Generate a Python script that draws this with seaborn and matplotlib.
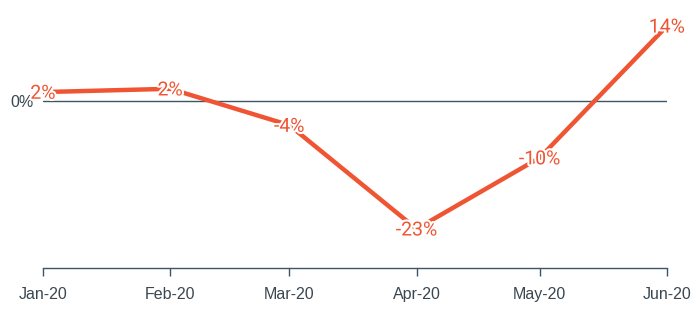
import matplotlib
matplotlib.use("Agg")
import matplotlib.pyplot as plt
import matplotlib.patheffects as pe
import seaborn as sns
import pandas as pd

months = ["2020-01-01", "2020-02-01", "2020-03-01", "2020-04-01", "2020-05-01", "2020-06-01"]
values = [1.6, 2.2, -4.4, -23.2, -10.3, 13.6]
tick_labels = ["Jan-20", "Feb-20", "Mar-20", "Apr-20", "May-20", "Jun-20"]

df = pd.DataFrame({"date": pd.to_datetime(months), "value": values})

sns.set_theme(style="white")
plt.rcParams["font.family"] = ["Liberation Sans", "DejaVu Sans"]

fig = plt.figure(figsize=(7, 3.15), dpi=100)
ax = fig.add_axes([43/700, (315-268)/315, (667-43)/700, 268/315])

line_color = "#ef5533"
axis_color = "#3d5666"

ax.axhline(0, color=axis_color, lw=1.0, zorder=1)
sns.lineplot(data=df, x="date", y="value", ax=ax, color=line_color, lw=3.2, zorder=2)

for d, v in zip(df["date"], df["value"]):
    ax.text(d, v - 0.3, f"{v:.0f}%", ha="center", va="center", fontsize=14,
            color=line_color, family=["Roboto", "DejaVu Sans"], zorder=3,
            path_effects=[pe.withStroke(linewidth=3, foreground="white")])

ax.set_xlim(df["date"].iloc[0], df["date"].iloc[-1])
ax.set_ylim(-30.3, 18.3)
ax.set_xticks(df["date"])
ax.set_xticklabels(tick_labels)
ax.set_yticks([0])
ax.set_yticklabels(["0%"])
ax.set_xlabel("")
ax.set_ylabel("")

for s in ["top", "right", "left"]:
    ax.spines[s].set_visible(False)
ax.spines["bottom"].set_color(axis_color)
ax.spines["bottom"].set_linewidth(1.0)
ax.tick_params(axis="x", bottom=True, length=6, width=1, color=axis_color,
               labelsize=11.5, labelcolor="#3a4650", pad=8)
ax.tick_params(axis="y", left=False, labelsize=11.5, labelcolor="#3a4650", pad=1)

fig.savefig("out.png", dpi=100)
